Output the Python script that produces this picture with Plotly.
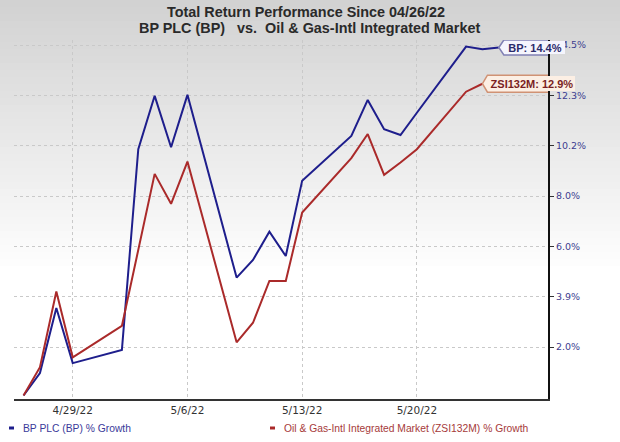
import plotly.graph_objects as go

# ---- data ----
dates = ["2022-04-26", "2022-04-27", "2022-04-28", "2022-04-29", "2022-05-02",
         "2022-05-03", "2022-05-04", "2022-05-05", "2022-05-06", "2022-05-09",
         "2022-05-10", "2022-05-11", "2022-05-12", "2022-05-13", "2022-05-16",
         "2022-05-17", "2022-05-18", "2022-05-19", "2022-05-20", "2022-05-23",
         "2022-05-24", "2022-05-25"]
bp_growth = [0.0, 0.93, 3.62, 1.34, 1.88, 10.19, 12.40, 10.27, 12.44, 4.88,
             5.61, 6.78, 5.77, 8.89, 10.74, 12.23, 11.02, 10.78, 11.70, 14.44,
             14.33, 14.40]
zsi_dates = dates[:-1]
zsi_growth = [0.0, 1.17, 4.30, 1.58, 2.88, 6.00, 9.17, 7.93, 9.68, 2.20,
              3.01, 4.74, 4.74, 7.57, 9.82, 10.82, 9.13, 9.64, 10.19, 12.57,
              12.90]

bp_name = "BP PLC (BP) % Growth"
zsi_name = "Oil & Gas-Intl Integrated Market (ZSI132M) % Growth"
bp_label = "BP: 14.4%"
zsi_label = "ZSI132M: 12.9%"

x_tick_vals = ["2022-04-29", "2022-05-06", "2022-05-13", "2022-05-20"]
x_tick_text = ["4/29/22", "5/6/22", "5/13/22", "5/20/22"]
y_tick_vals = [2.0, 4.083, 6.167, 8.25, 10.333, 12.417, 14.5]
y_tick_text = ["2.0%", "3.9%", "6.0%", "8.0%", "10.2%", "12.3%", "14.5%"]

title_line1 = "Total Return Performance Since 04/26/22"
title_line2 = "BP PLC (BP)\u00a0\u00a0\u00a0vs.\u00a0\u00a0Oil & Gas-Intl Integrated Market"

BLUE = "#1e1e8c"
RED = "#aa2a2a"

fig = go.Figure()
fig.add_trace(go.Scatter(x=dates, y=bp_growth, mode="lines", name=bp_name,
                         line=dict(color=BLUE, width=2), showlegend=False,
                         hoverinfo="skip"))
fig.add_trace(go.Scatter(x=zsi_dates, y=zsi_growth, mode="lines", name=zsi_name,
                         line=dict(color=RED, width=2), showlegend=False,
                         hoverinfo="skip"))

# plot area in pixels
L, R, T, B = 14, 548, 40, 399
W, H = 620, 442
pw, ph = R - L, B - T


def px(xp):
    return (xp - L) / pw


def py(yp):
    return (B - yp) / ph


shapes = []
# background gradient (gray at top fading to white)
n = 40
for i in range(n):
    y0 = i * 7
    y1 = y0 + 7
    c = int(min(255, 210 + 0.167 * (y0 + 3.5)))
    shapes.append(dict(type="rect", xref="paper", yref="paper",
                       x0=px(0), x1=px(W), y0=py(y1), y1=py(y0),
                       fillcolor=f"rgb({c},{c},{c})", line=dict(width=0),
                       layer="below"))

BP_FILL, BP_EDGE = "#f5f5fd", "#8080b4"
ZS_FILL, ZS_EDGE = "#fcefe4", "#d09274"

# end callouts
shapes.append(dict(type="path", xref="x", yref="y", xsizemode="pixel",
                   ysizemode="pixel", xanchor=dates[-1], yanchor=bp_growth[-1],
                   path="M0,0 L5,7.5 L67,7.5 L67,-7.5 L5,-7.5 Z",
                   fillcolor=BP_FILL, line=dict(color=BP_EDGE, width=1.5),
                   layer="above"))
shapes.append(dict(type="path", xref="x", yref="y", xsizemode="pixel",
                   ysizemode="pixel", xanchor=zsi_dates[-1], yanchor=zsi_growth[-1],
                   path="M0,0 L5,8.5 L94,8.5 L94,-8.5 L5,-8.5 Z",
                   fillcolor=ZS_FILL, line=dict(color=ZS_EDGE, width=1.5),
                   layer="above"))

# legend dashes
shapes.append(dict(type="line", xref="paper", yref="paper",
                   x0=px(9), x1=px(14), y0=py(428), y1=py(428),
                   line=dict(color=BLUE, width=3)))
shapes.append(dict(type="line", xref="paper", yref="paper",
                   x0=px(270), x1=px(275), y0=py(428), y1=py(428),
                   line=dict(color=RED, width=3)))

FONT = "Liberation Sans, Arial"
annotations = [
    dict(text=title_line1, xref="paper", yref="paper", x=px(306), y=py(12),
         showarrow=False, xanchor="center", yanchor="middle",
         font=dict(family=FONT, size=14.4, color="#2a2a2a", weight="bold")),
    dict(text=title_line2, xref="paper", yref="paper", x=px(309), y=py(28),
         showarrow=False, xanchor="center", yanchor="middle",
         font=dict(family=FONT, size=14.4, color="#2a2a2a", weight="bold")),
    dict(text=bp_label, xref="x", yref="y", x=dates[-1], y=bp_growth[-1],
         xshift=36.5, showarrow=False, xanchor="center", yanchor="middle",
         width=60, height=13, bgcolor=BP_FILL, borderwidth=0, borderpad=0,
         font=dict(family=FONT, size=11, color="#2b2b6b", weight="bold")),
    dict(text=zsi_label, xref="x", yref="y", x=zsi_dates[-1], y=zsi_growth[-1],
         xshift=50, showarrow=False, xanchor="center", yanchor="middle",
         width=86, height=15, bgcolor=ZS_FILL, borderwidth=0, borderpad=0,
         font=dict(family=FONT, size=11, color="#7a1f1f", weight="bold")),
    dict(text=bp_name, xref="paper", yref="paper", x=px(21), y=py(428),
         showarrow=False, xanchor="left", yanchor="middle",
         font=dict(family=FONT, size=10.3, color="#3a3a9a")),
    dict(text=zsi_name, xref="paper", yref="paper", x=px(282), y=py(428),
         showarrow=False, xanchor="left", yanchor="middle",
         font=dict(family=FONT, size=10.3, color="#a63a3a")),
]

fig.update_layout(
    width=W, height=H,
    margin=dict(l=L, r=W - R, t=T, b=H - B, pad=0),
    paper_bgcolor="white",
    plot_bgcolor="rgba(0,0,0,0)",
    shapes=shapes,
    annotations=annotations,
    showlegend=False,
    xaxis=dict(type="date", range=["2022-04-25 10:00", "2022-05-28 00:00"],
               tickvals=x_tick_vals, ticktext=x_tick_text, automargin=False,
               showgrid=True, gridcolor="#c9c9c9", griddash="dot", gridwidth=1,
               showline=True, linecolor="#333333", linewidth=2,
               ticks="", zeroline=False,
               tickfont=dict(family="DejaVu Sans, Verdana", size=10.5, color="#333333")),
    yaxis=dict(side="right", range=[-0.145, 14.71], automargin=False,
               tickvals=y_tick_vals, ticktext=y_tick_text,
               showgrid=True, gridcolor="#c9c9c9", griddash="dot", gridwidth=1,
               showline=True, linecolor="#111111", linewidth=2,
               ticks="outside", ticklen=4, tickcolor="#333333", zeroline=False,
               tickfont=dict(family="DejaVu Sans, Verdana", size=9.5, color="#3d3d8f")),
)

fig.write_html("out.html", config={"displayModeBar": False},
               post_script="document.body.style.margin='0px';")
